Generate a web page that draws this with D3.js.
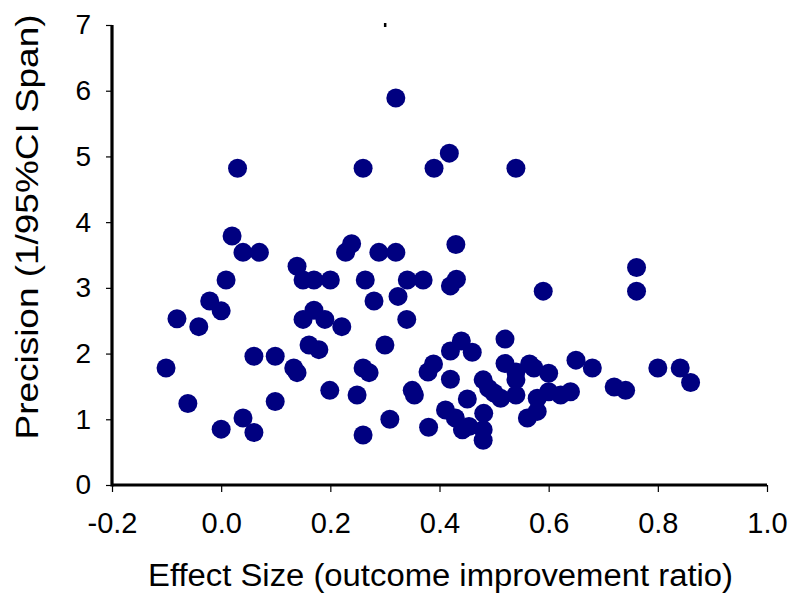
<!DOCTYPE html>
<html>
<head>
<meta charset="utf-8">
<script src="https://cdn.jsdelivr.net/npm/d3@7"></script>
<style>
  html, body { margin: 0; padding: 0; background: #fff; }
  svg { display: block; }
  text { font-family: "Liberation Sans", Arial, sans-serif; fill: #000; }
</style>
</head>
<body>
<svg id="chart" width="800" height="606"></svg>
<script>
// Data
const effectSize = [
  0.320, 0.030, 0.260, 0.390, 0.418, 0.540, 0.430, 0.020, 0.040, 0.070,
  0.239, 0.228, 0.289, 0.320, 0.009, -0.021, 0.000, -0.081, -0.041, -0.101,
  -0.061, 0.000, 0.040, 0.060, 0.060, 0.099, 0.099, 0.133, 0.139, 0.139,
  0.150, 0.170, 0.200, 0.150, 0.170, 0.190, 0.221, 0.161, 0.179, 0.199,
  0.249, 0.260, 0.260, 0.271, 0.264, 0.280, 0.300, 0.309, 0.324, 0.341,
  0.370, 0.340, 0.350, 0.354, 0.380, 0.379, 0.389, 0.431, 0.420, 0.590,
  0.761, 0.761, 0.520, 0.440, 0.420, 0.460, 0.420, 0.520, 0.565, 0.573,
  0.600, 0.650, 0.680, 0.800, 0.841, 0.860, 0.720, 0.741, 0.640, 0.622,
  0.600, 0.579, 0.579, 0.561, 0.540, 0.540, 0.540, 0.512, 0.480, 0.490,
  0.481, 0.480, 0.480, 0.451, 0.411, 0.429, 0.442, 0.454, 0.500
];
const precision = [
  5.89, 4.82, 4.82, 4.82, 5.05, 4.82, 3.66, 3.79, 3.54, 3.54,
  3.67, 3.54, 3.54, 3.54, 3.12, 2.80, 2.65, 2.53, 2.41, 1.78,
  1.24, 0.85, 1.02, 0.80, 1.96, 1.96, 1.27, 1.78, 1.71, 3.33,
  3.12, 3.12, 3.12, 2.52, 2.66, 2.52, 2.41, 2.13, 2.06, 1.44,
  1.37, 0.76, 1.78, 1.71, 3.12, 2.80, 2.13, 1.00, 2.87, 3.12,
  3.12, 2.52, 1.44, 1.37, 0.88, 1.72, 1.84, 3.13, 3.03, 2.95,
  3.31, 2.95, 2.22, 2.19, 2.04, 2.02, 1.61, 1.85, 1.84, 1.78,
  1.70, 1.90, 1.78, 1.78, 1.78, 1.56, 1.49, 1.44, 1.42, 1.37,
  1.42, 1.32, 1.12, 1.02, 1.37, 1.60, 1.72, 1.32, 1.60, 1.47,
  1.09, 0.84, 0.68, 1.31, 1.14, 1.02, 0.84, 0.89, 1.40
];
const strayMarkX = [0.30];
const strayMarkY = [7.0];
const xTicks = [-0.2, 0.0, 0.2, 0.4, 0.6, 0.8, 1.0];
const xTickLabels = ["-0.2", "0.0", "0.2", "0.4", "0.6", "0.8", "1.0"];
const yTicks = [0, 1, 2, 3, 4, 5, 6, 7];
const xTitle = "Effect Size (outcome improvement ratio)";
const yTitle = "Precision (1/95%CI Span)";

const points = effectSize.map((x, i) => ({ x, y: precision[i] }));

const svg = d3.select("#chart");
const x = d3.scaleLinear().domain([-0.2, 1.0]).range([112, 767]);
const y = d3.scaleLinear().domain([0, 7]).range([485, 25]);

// points
svg.append("g")
  .selectAll("circle")
  .data(points)
  .join("circle")
  .attr("cx", d => x(d.x))
  .attr("cy", d => y(d.y))
  .attr("r", 9.5)
  .attr("fill", "#000080");

// stray mark at top
svg.append("g")
  .selectAll("rect")
  .data(strayMarkX.map((v, i) => ({ x: v, y: strayMarkY[i] })))
  .join("rect")
  .attr("x", d => x(d.x) - 1)
  .attr("y", d => y(d.y) - 2)
  .attr("width", 2.5)
  .attr("height", 4)
  .attr("fill", "#000");

// x axis
const xAxis = d3.axisBottom(x).tickValues(xTicks)
  .tickFormat((d, i) => xTickLabels[i]).tickSize(7).tickSizeOuter(0);
const gx = svg.append("g").attr("transform", `translate(0,${y(0)})`).call(xAxis);
gx.select(".domain").remove();
gx.selectAll(".tick line").attr("stroke", "#000").attr("stroke-width", 1.2);
gx.selectAll(".tick text")
  .attr("y", 48)
  .attr("dy", 0)
  .style("font-size", "29px")
  .style("font-family", "'Liberation Sans', Arial, sans-serif");

// y axis
const yAxis = d3.axisLeft(y).tickValues(yTicks).tickFormat(d3.format("d")).tickSize(6).tickSizeOuter(0);
const gy = svg.append("g").attr("transform", `translate(${x(-0.2)},0)`).call(yAxis);
gy.select(".domain").remove();
gy.selectAll(".tick line").attr("stroke", "#000").attr("stroke-width", 1.2);
gy.selectAll(".tick text")
  .attr("x", -21)
  .style("font-size", "28px")
  .style("font-family", "'Liberation Sans', Arial, sans-serif");

// axis lines (thick)
svg.append("line")
  .attr("x1", x(-0.2)).attr("x2", x(1.0))
  .attr("y1", y(0)).attr("y2", y(0))
  .attr("stroke", "#000").attr("stroke-width", 3.2);
svg.append("line")
  .attr("x1", x(-0.2)).attr("x2", x(-0.2))
  .attr("y1", y(7)).attr("y2", y(0) + 1.6)
  .attr("stroke", "#000").attr("stroke-width", 3.2);

// titles
svg.append("text")
  .attr("x", (x(-0.2) + x(1.0)) / 2 + 1)
  .attr("y", 586)
  .attr("text-anchor", "middle")
  .style("font-size", "31px")
  .attr("textLength", 585)
  .attr("lengthAdjust", "spacingAndGlyphs")
  .text(xTitle);

svg.append("text")
  .attr("transform", `translate(38,227) rotate(-90)`)
  .attr("text-anchor", "middle")
  .style("font-size", "31px")
  .attr("textLength", 425)
  .attr("lengthAdjust", "spacingAndGlyphs")
  .text(yTitle);
</script>
</body>
</html>
